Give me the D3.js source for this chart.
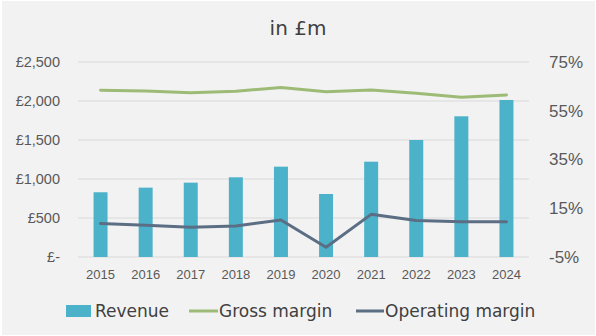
<!DOCTYPE html>
<html>
<head>
<meta charset="utf-8">
<script src="https://cdn.jsdelivr.net/npm/d3@7"></script>
<style>
  body { margin: 0; background: #fff; }
  svg { display: block; font-family: "DejaVu Sans", sans-serif; }
</style>
</head>
<body>
<div id="chart"></div>
<script>
// data
const years = ["2015", "2016", "2017", "2018", "2019", "2020", "2021", "2022", "2023", "2024"];
const revenue = [830, 889, 953, 1022, 1158, 808, 1222, 1500, 1804, 2013];
const grossMargin = [63.4, 63.1, 62.4, 63.0, 64.5, 62.8, 63.5, 62.2, 60.5, 61.5];
const operatingMargin = [8.7, 8.0, 7.2, 7.7, 10.2, -1.0, 12.5, 10.0, 9.5, 9.5];
const leftTicks = [0, 500, 1000, 1500, 2000, 2500];
const rightTicks = [-5, 15, 35, 55, 75];

const W = 596, H = 336;
const plot = { left: 78, right: 529, top: 62, bottom: 257 };

const svg = d3.select("#chart").append("svg")
    .attr("width", W)
    .attr("height", H);

svg.append("rect")
    .attr("x", 2).attr("y", 1)
    .attr("width", W - 3).attr("height", H - 2)
    .attr("fill", "#f2f2f2");

// scales
const x = d3.scaleBand()
    .domain(years)
    .range([plot.left, plot.right])
    .paddingInner(0.69)
    .paddingOuter(0.345);
const yLeft = d3.scaleLinear().domain([0, 2500]).range([plot.bottom, plot.top]);
const yRight = d3.scaleLinear().domain([-5, 75]).range([plot.bottom, plot.top]);
const cx = d => x(d) + x.bandwidth() / 2;

// gridlines
svg.append("g")
    .selectAll("line")
    .data(leftTicks)
    .join("line")
    .attr("x1", plot.left).attr("x2", plot.right)
    .attr("y1", d => yLeft(d)).attr("y2", d => yLeft(d))
    .attr("stroke", "#d9d9d9")
    .attr("stroke-width", 1);

// left axis
const fmtLeft = d => d === 0 ? "£-" : "£" + d3.format(",")(d);
const leftAxis = svg.append("g")
    .attr("transform", "translate(" + (plot.left - 18) + ",0)")
    .call(d3.axisLeft(yLeft).tickValues(leftTicks).tickFormat(fmtLeft).tickSize(0).tickPadding(0));
leftAxis.select(".domain").remove();
leftAxis.selectAll("text")
    .attr("fill", "#595959")
    .style("font-size", "14.5px");

// right axis
const rightAxis = svg.append("g")
    .attr("transform", "translate(" + (plot.right + 20) + ",0)")
    .call(d3.axisRight(yRight).tickValues(rightTicks).tickFormat(d => d + "%").tickSize(0).tickPadding(0));
rightAxis.select(".domain").remove();
rightAxis.selectAll("text")
    .attr("fill", "#595959")
    .style("font-size", "17px");

// x axis labels
const xAxis = svg.append("g")
    .attr("transform", "translate(0," + (plot.bottom + 13) + ")")
    .call(d3.axisBottom(x).tickSize(0).tickPadding(0));
xAxis.select(".domain").remove();
xAxis.selectAll("text")
    .attr("fill", "#595959")
    .style("font-size", "13px");

// bars
svg.append("g")
    .selectAll("rect")
    .data(years)
    .join("rect")
    .attr("x", d => x(d))
    .attr("width", x.bandwidth())
    .attr("y", (d, i) => yLeft(revenue[i]))
    .attr("height", (d, i) => yLeft(0) - yLeft(revenue[i]))
    .attr("fill", "#4bb2c9");

// lines
const line = d3.line()
    .x((d, i) => cx(years[i]))
    .y(d => yRight(d));

svg.append("path")
    .datum(grossMargin)
    .attr("d", line)
    .attr("fill", "none")
    .attr("stroke", "#9dbb76")
    .attr("stroke-width", 3)
    .attr("stroke-linejoin", "round")
    .attr("stroke-linecap", "round");

svg.append("path")
    .datum(operatingMargin)
    .attr("d", line)
    .attr("fill", "none")
    .attr("stroke", "#5b6e84")
    .attr("stroke-width", 3)
    .attr("stroke-linejoin", "round")
    .attr("stroke-linecap", "round");

// title
svg.append("text")
    .attr("x", 298).attr("y", 35)
    .attr("text-anchor", "middle")
    .attr("fill", "#404040")
    .style("font-size", "20px")
    .text("in £m");

// legend
const legY = 311;
const legend = svg.append("g").style("font-size", "17px").attr("fill", "#404040");
legend.append("rect")
    .attr("x", 66).attr("y", legY - 6)
    .attr("width", 25).attr("height", 12)
    .attr("fill", "#4bb2c9");
legend.append("text")
    .attr("x", 95).attr("y", legY).attr("dy", "0.35em")
    .text("Revenue");
legend.append("line")
    .attr("x1", 189).attr("x2", 218)
    .attr("y1", legY).attr("y2", legY)
    .attr("stroke", "#9dbb76").attr("stroke-width", 3);
legend.append("text")
    .attr("x", 219).attr("y", legY).attr("dy", "0.35em")
    .text("Gross margin");
legend.append("line")
    .attr("x1", 356).attr("x2", 384)
    .attr("y1", legY).attr("y2", legY)
    .attr("stroke", "#5b6e84").attr("stroke-width", 3);
legend.append("text")
    .attr("x", 385).attr("y", legY).attr("dy", "0.35em")
    .text("Operating margin");
</script>
</body>
</html>
